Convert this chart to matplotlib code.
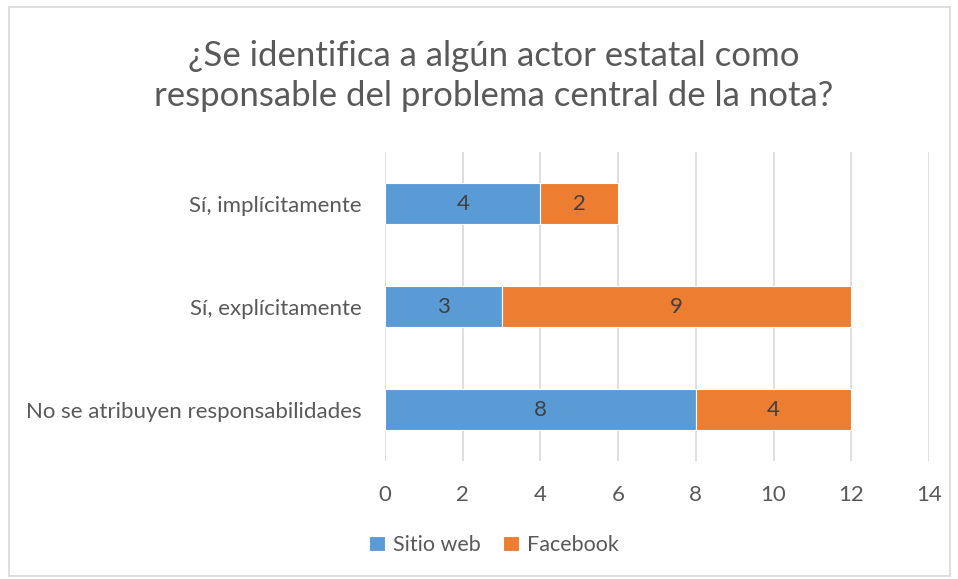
import numpy as np
import matplotlib
matplotlib.use('Agg')
from matplotlib import pyplot as plt
from matplotlib.patches import Rectangle

categories = ['No se atribuyen responsabilidades', 'Sí, explícitamente', 'Sí, implícitamente']
sitio_web = [8, 3, 4]
facebook = [4, 9, 2]
series_names = ['Sitio web', 'Facebook']
xticks = [0, 2, 4, 6, 8, 10, 12, 14]

plt.rcParams['font.family'] = ['Lato', 'DejaVu Sans']
txt = '#595959'
blue = '#5B9BD5'
orange = '#ED7D31'

fig = plt.figure(figsize=(9.58, 5.79), dpi=100)
fig.patches.append(Rectangle((9/958, 1-576/579), 941/958, 569/579, transform=fig.transFigure,
                             fill=False, edgecolor='#D9D9D9', linewidth=1.2))

ax = fig.add_axes([385/958, (579-461.2)/579, 544/958, 309.2/579])
y = np.arange(len(categories))
b1 = ax.barh(y, sitio_web, height=0.4, color=blue, edgecolor='white', linewidth=0.8, label=series_names[0], zorder=3)
b2 = ax.barh(y, facebook, left=sitio_web, height=0.4, color=orange, edgecolor='white', linewidth=0.8, label=series_names[1], zorder=3)
ax.bar_label(b1, label_type='center', fontsize=16, color='#404040')
ax.bar_label(b2, label_type='center', fontsize=16, color='#404040')

ax.set_xlim(0, 14)
ax.set_ylim(-0.5, 2.5)
ax.set_xticks(xticks)
ax.set_yticks(y)
ax.set_yticklabels(categories, fontsize=16.4)
ax.grid(axis='x', color='#D9D9D9', linewidth=1.2, zorder=0)
for s in ax.spines.values():
    s.set_visible(False)
ax.tick_params(length=0, labelsize=16, labelcolor=txt)
ax.tick_params(axis='x', pad=17)
ax.tick_params(axis='y', pad=17)

fig.text(494/958, 1-76/579, '¿Se identifica a algún actor estatal como\nresponsable del problema central de la nota?',
         ha='center', va='center', fontsize=25, color=txt, linespacing=1.28)

fig.legend(handles=[b1, b2], loc='center', bbox_to_anchor=(494/958, 1-545/579), ncol=2, frameon=False,
           fontsize=15.5, labelcolor=txt, handlelength=0.75, handleheight=0.75, handletextpad=0.4, columnspacing=1.0)

fig.savefig('out.png', dpi=100)
